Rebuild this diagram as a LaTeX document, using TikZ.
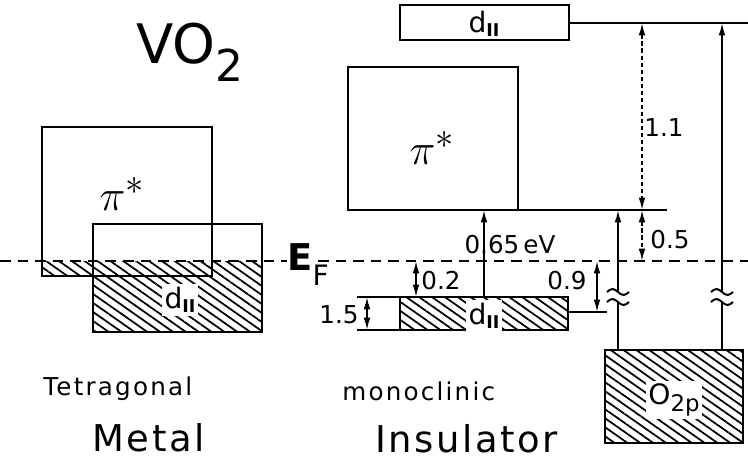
\documentclass[tikz,border=0pt]{standalone}
\usepackage{amsmath,amssymb}
\usepackage{fontspec}
\setmainfont{DejaVu Sans}
\usepackage{tikz}
\usetikzlibrary{arrows.meta,positioning,patterns.meta,calc}
\newcommand\tamRotulo{\fontsize{14}{16}\selectfont}
\newcommand\tamBanda{\fontsize{24.88}{28}\selectfont}
\newcommand\tamFase{\fontsize{14}{16}\selectfont\addfontfeature{LetterSpace=9}}
\newcommand\tamTipo{\fontsize{21}{25}\selectfont\addfontfeature{LetterSpace=7}}
\newcommand\dpar{d\raisebox{-2.5pt}{\fontsize{10}{10}\selectfont\bfseries II}}
\tikzset{
    banda/.style={draw, line width=1.3pt},
    hachura/.style={pattern={Lines[angle=-35,distance=4.2pt,line width=1pt]}},
    nivel/.style={line width=1.1pt},
    fermi/.style={line width=1.1pt, dash pattern=on 6pt off 4pt},
    seta/.style={-{Latex[length=7pt,width=3.8pt]}, line width=1pt},
    cota/.style={{Latex[length=7pt,width=3.8pt]}-{Latex[length=7pt,width=3.8pt]}, line width=1pt},
    cotaPont/.style={cota, dash pattern=on 2.5pt off 1.5pt},
    rotulo/.style={font=\tamRotulo, inner sep=1pt},
    nomeBanda/.style={font=\tamBanda, inner sep=1pt},
    nomeD/.style={font=\fontsize{16}{18}\selectfont, fill=white, inner sep=1.5pt},
    quebra/.pic={
        \fill[white] (-12,-5) rectangle (12,5);
        \draw[line width=1.1pt] (-11,-5) sin (-5.5,-8) cos (0,-5) sin (5.5,-2) cos (11,-5);
        \draw[line width=1.1pt] (-11,5) sin (-5.5,2) cos (0,5) sin (5.5,8) cos (11,5);
    }
}

\begin{document}
\begin{tikzpicture}[x=0.02cm, y=-0.02cm]
    \useasboundingbox (0,0) rectangle (748,463);

    % titulo
    \node[anchor=base west, inner sep=0pt, font=\fontsize{31}{34}\selectfont] (titulo) at (136,63)
        {VO\raisebox{-10.5pt}{\fontsize{25}{25}\selectfont 2}};

    % metal tetragonal
    \path[hachura] (42,261) -- (262,261) -- (262,332) -- (93,332) -- (93,276) -- (42,276) -- cycle;
    \draw[banda] (42,127) rectangle (212,276);
    \draw[banda] (93,224) rectangle (262,332);
    \node[nomeBanda] (piMetal) at (122,194) {$\pi^{*}$};
    \node[nomeD] (dMetal) at (180,300) {\dpar};

    % nivel de Fermi
    \node[anchor=base west, inner sep=0pt, font=\fontsize{21}{25}\selectfont] (ef) at (287,270)
        {\textbf{E}\raisebox{-9pt}{\fontsize{16}{16}\selectfont F}};
    \coordinate (fermiE) at (0,261);
    \coordinate (fermiM) at (318,261);
    \coordinate (fermiD) at (748,261);
    \draw[fermi] (fermiE) -- (fermiE -| ef.west);
    \draw[fermi] (fermiM) -- (fermiD);

    % isolante monoclinico
    \draw[banda] (400,5) rectangle (569,40);
    \node[nomeD, fill=none] (dAlto) at (484,24) {\dpar};
    \draw[banda] (348,67) rectangle (518,210);
    \node[nomeBanda] (piIso) at (432,148) {$\pi^{*}$};
    \path[hachura] (400,297) rectangle (568,330);
    \draw[banda] (400,297) rectangle (568,330);
    \node[nomeD] (dBaixo) at (484,316) {\dpar};
    \path[hachura] (605,350) rectangle (743,443);
    \draw[banda] (605,350) rectangle (743,443);
    \node[nomeD] (o2p) at (674,400) {O\raisebox{-4pt}{\fontsize{13}{13}\selectfont 2p}};

    % niveis de referencia
    \coordinate (topoD) at (569,23);
    \coordinate (topoFim) at (748,23);
    \coordinate (piFundo) at (518,210);
    \coordinate (piFim) at (667,210);
    \coordinate (dMeio) at (568,312);
    \coordinate (dMeioFim) at (607,312);
    \draw[nivel] (topoD) -- (topoFim);
    \draw[nivel] (piFundo) -- (piFim);
    \draw[nivel] (dMeio) -- (dMeioFim);
    \draw[nivel] (357,297) -- (400,297);
    \draw[nivel] (357,330) -- (400,330);

    % cotas
    \draw[seta] (484,297) -- (484,210);
    \node[rotulo] (g065) at (510,245) {0.65\,eV};
    \draw[cota] (367,297) -- (367,330);
    \node[rotulo] (g15) at (339,315) {1.5};
    \draw[cota] (416,261) -- (416,297);
    \node[rotulo] (g02) at (441,281) {0.2};
    \draw[cota] (597,261) -- (597,312);
    \node[rotulo] (g09) at (567,281) {0.9};
    \draw[cotaPont] (642,23) -- (642,210);
    \node[rotulo] (g11) at (664,128) {1.1};
    \draw[cotaPont] (642,210) -- (642,261);
    \node[rotulo] (g05) at (670,240) {0.5};

    % transicoes a partir de O2p
    \draw[seta] (618,350) -- (618,210);
    \draw[seta] (722,350) -- (722,23);
    \pic at (618,297) {quebra};
    \pic at (722,297) {quebra};

    % legendas
    \node[anchor=base west, inner sep=0pt, font=\tamFase] (tetra) at (43,395) {Tetragonal};
    \node[anchor=base west, inner sep=0pt, font=\tamTipo] (metal) at (92,451) {Metal};
    \node[anchor=base west, inner sep=0pt, font=\tamFase] (mono) at (342,400) {monoclinic};
    \node[anchor=base west, inner sep=0pt, font=\tamTipo] (iso) at (375,452) {Insulator};
\end{tikzpicture}
\end{document}
